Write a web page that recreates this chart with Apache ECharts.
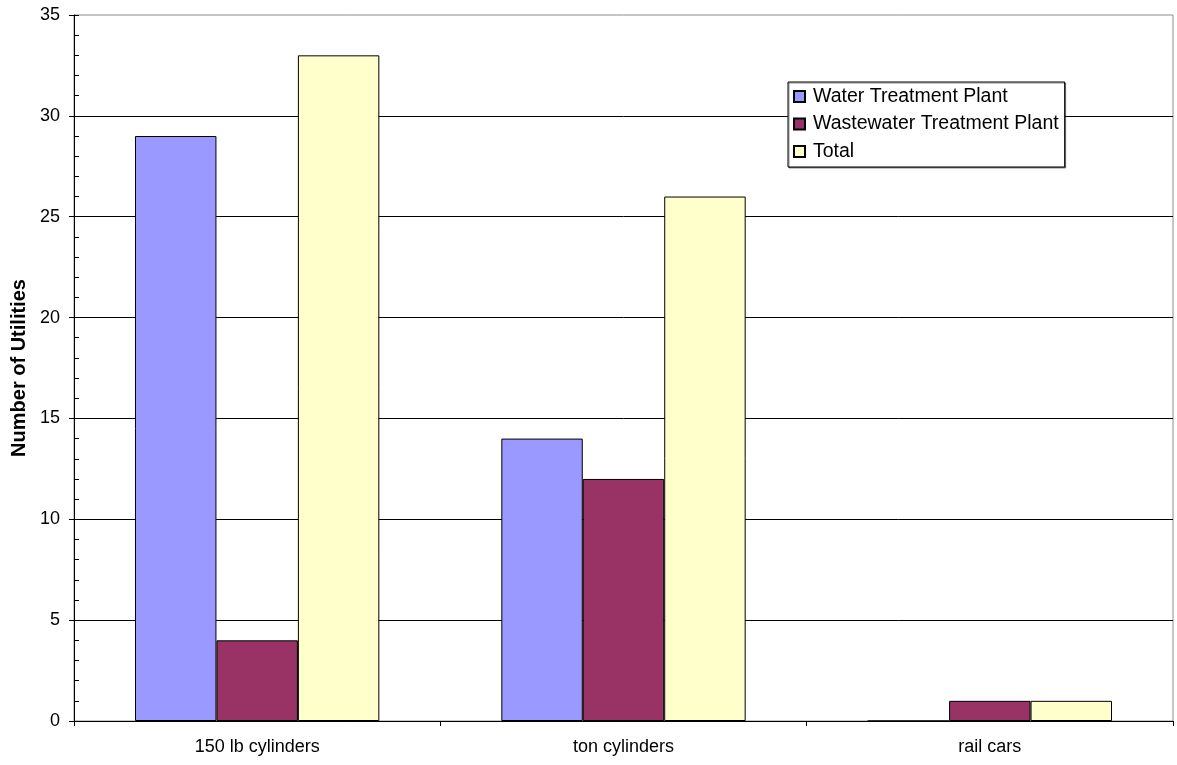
<!DOCTYPE html>
<html>
<head>
<meta charset="utf-8">
<script src="https://cdn.jsdelivr.net/npm/echarts@6/dist/echarts.min.js"></script>
<style>
  html, body { margin: 0; padding: 0; background: #ffffff; }
  #chart { width: 1177px; height: 765px; }
</style>
</head>
<body>
<div id="chart"></div>
<script>
// Chlorine container types by utility kind
const categories = ['150 lb cylinders', 'ton cylinders', 'rail cars'];
const waterPlant = [29, 14, 0];
const wastewaterPlant = [4, 12, 1];
const totalUtilities = [33, 26, 1];
const seriesNames = ['Water Treatment Plant', 'Wastewater Treatment Plant', 'Total'];
const yTicks = [0, 5, 10, 15, 20, 25, 30, 35];

const FONT = '"Liberation Sans", Arial, sans-serif';

const chart = echarts.init(document.getElementById('chart'), null, { renderer: 'canvas' });

function barSeries(name, data, color) {
  return {
    name: name,
    type: 'bar',
    yAxisIndex: 0,
    data: data,
    barGap: 0,
    barCategoryGap: '33.3%',
    itemStyle: { color: color, borderColor: '#000000', borderWidth: 1 },
    emphasis: { disabled: true },
    animation: false
  };
}

chart.setOption({
  animation: false,
  backgroundColor: '#ffffff',
  grid: {
    left: 74, right: 4, top: 15, bottom: 44,
    show: true,
    borderColor: '#8c8c8c',
    borderWidth: 1,
    backgroundColor: '#ffffff'
  },
  legend: {
    orient: 'vertical',
    left: 788,
    top: 82,
    data: seriesNames,
    backgroundColor: '#ffffff',
    borderColor: '#000000',
    borderWidth: 1,
    shadowColor: 'rgba(0,0,0,0.45)',
    shadowOffsetX: 1,
    shadowOffsetY: 1,
    shadowBlur: 0,
    padding: [4, 6, 5, 5],
    itemGap: 6.5,
    itemWidth: 11,
    itemHeight: 11,
    icon: 'rect',
    selectedMode: false,
    textStyle: {
      fontFamily: FONT,
      fontSize: 19.5,
      color: '#000000',
      lineHeight: 21,
      padding: [0, 0, 0, 3]
    }
  },
  xAxis: {
    type: 'category',
    data: categories,
    axisLine: { lineStyle: { color: '#000000', width: 1 } },
    axisTick: { show: true, alignWithLabel: false, length: 5, lineStyle: { color: '#000000' } },
    axisLabel: { fontFamily: FONT, fontSize: 18, color: '#000000', margin: 17 },
    splitLine: { show: false }
  },
  yAxis: [
    {
      type: 'value',
      min: yTicks[0],
      max: yTicks[yTicks.length - 1],
      interval: 5,
      position: 'left',
      name: 'Number of Utilities',
      nameLocation: 'middle',
      nameGap: 45,
      nameTextStyle: { fontFamily: FONT, fontSize: 20, fontWeight: 'bold', color: '#000000' },
      axisLine: { show: true, lineStyle: { color: '#000000', width: 1 } },
      axisTick: { show: true, inside: false, length: 5, lineStyle: { color: '#000000' } },
      axisLabel: { fontFamily: FONT, fontSize: 18, color: '#000000', margin: 14 },
      splitLine: {
        show: true,
        showMaxLine: false,
        lineStyle: { color: '#000000', width: 1 }
      }
    },
    {
      // minor ticks, one per unit, pointing into the plot
      type: 'value',
      min: yTicks[0],
      max: yTicks[yTicks.length - 1],
      interval: 1,
      position: 'left',
      offset: 0,
      axisLine: { show: false },
      axisTick: { show: true, inside: true, length: 5, lineStyle: { color: '#000000' } },
      axisLabel: { show: false },
      splitLine: { show: false }
    }
  ],
  series: [
    barSeries(seriesNames[0], waterPlant, '#9999ff'),
    barSeries(seriesNames[1], wastewaterPlant, '#993366'),
    barSeries(seriesNames[2], totalUtilities, '#ffffcc')
  ]
});
</script>
</body>
</html>
